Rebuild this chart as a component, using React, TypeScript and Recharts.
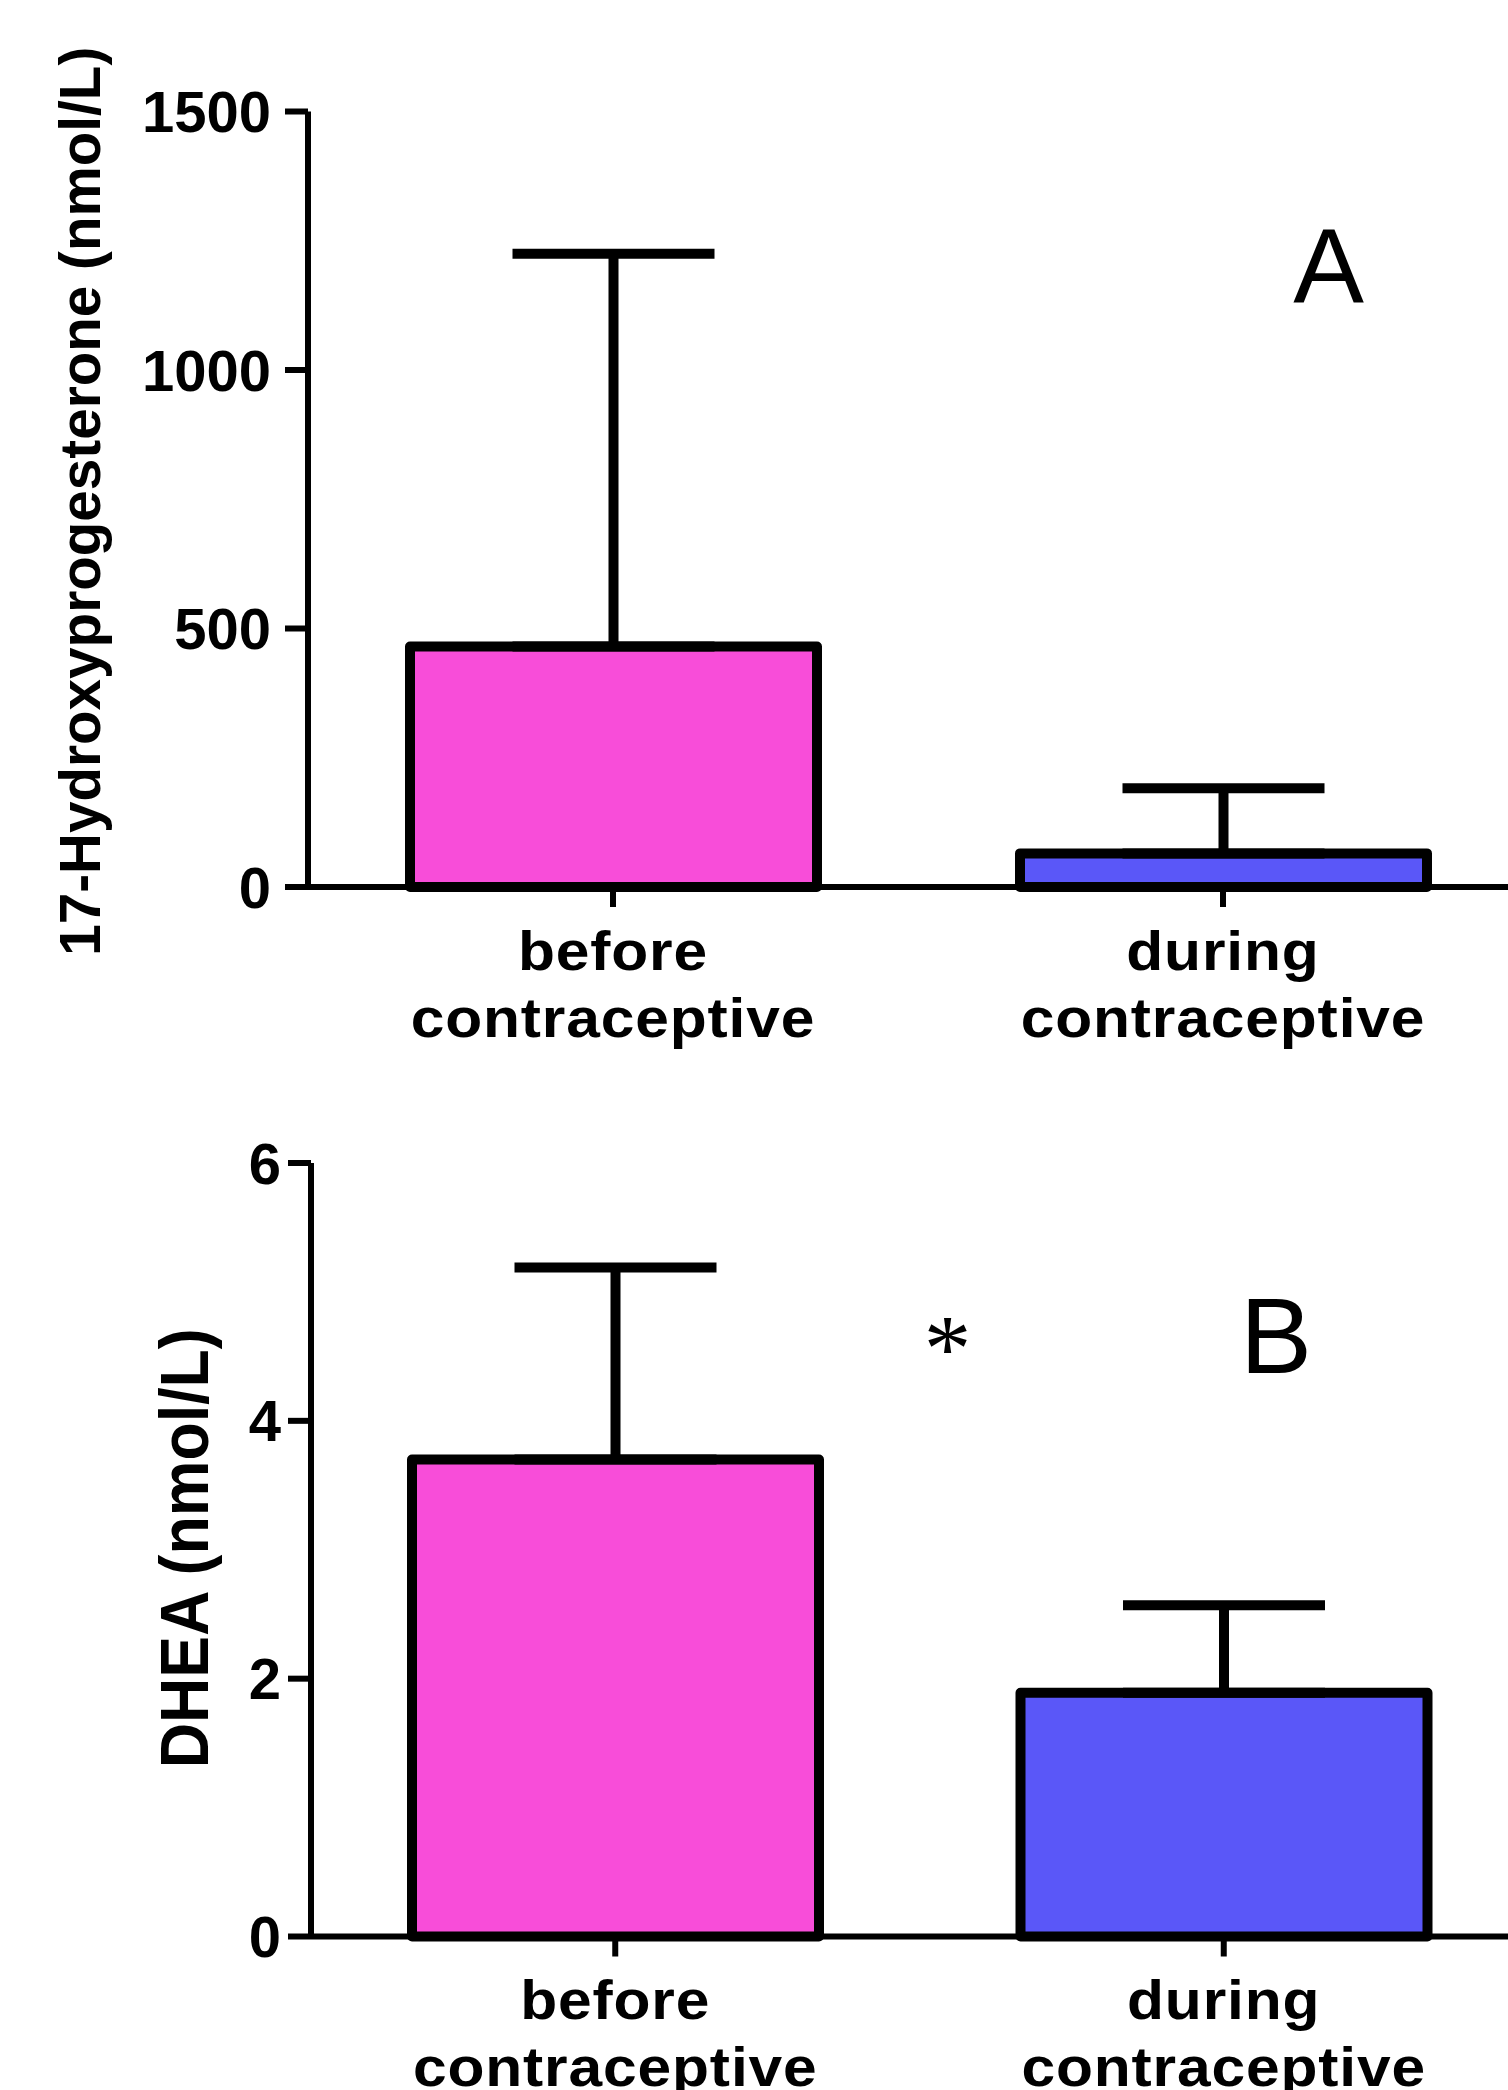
import React from "react";
import { BarChart, Bar, Cell, XAxis, YAxis, ErrorBar, Label } from "recharts";

// values (mean + upper SD whisker)
const CATEGORIES = ["before contraceptive", "during contraceptive"];

const HP17_MEAN = [465, 65];
const HP17_SD = [760, 126];
const HP17_TICKS = [0, 500, 1000, 1500];

const DHEA_MEAN = [3.7, 1.89];
const DHEA_SD = [1.49, 0.68];
const DHEA_TICKS = [0, 2, 4, 6];

const BAR_COLORS = ["#F84DD9", "#5A57F8"];
const FONT = "'Liberation Sans', Arial, Helvetica, sans-serif";
const INK = "#000";

const hp17Data = CATEGORIES.map((name, i) => ({
  name,
  mean: HP17_MEAN[i],
  err: [0, HP17_SD[i]],
}));

const dheaData = CATEGORIES.map((name, i) => ({
  name,
  mean: DHEA_MEAN[i],
  err: [0, DHEA_SD[i]],
}));

// two-line category label; the original print is a little wide, so stretch it
function CategoryTick({ x, y, payload }: any) {
  const lines = String(payload.value).split(" ");
  return (
    <text
      textAnchor="middle"
      fontFamily={FONT}
      fontWeight={700}
      fontSize={55}
      letterSpacing={0.8}
      fill={INK}
      transform={`translate(${x},0) scale(1.1,1) translate(${-x},0)`}
    >
      {lines.map((line, i) => (
        <tspan key={line} x={x} y={y + 63 + i * 67}>
          {line}
        </tspan>
      ))}
    </text>
  );
}

// rotated y-axis title; baseline sits at `baseX` inside the axis box
function axisTitle(text: string, baseX: number, size: number, length: number, dy: number) {
  return (props: any) => {
    const vb = props.viewBox;
    const cx = vb.x + baseX;
    const cy = vb.y + vb.height / 2 + dy;
    return (
      <text
        x={cx}
        y={cy}
        transform={`rotate(-90, ${cx}, ${cy})`}
        textAnchor="middle"
        fontFamily={FONT}
        fontWeight={700}
        fontSize={size}
        textLength={length}
        lengthAdjust="spacingAndGlyphs"
        fill={INK}
      >
        {text}
      </text>
    );
  };
}

interface PanelProps {
  data: { name: string; mean: number; err: number[] }[];
  ticks: number[];
  top: number;
  marginTop: number;
  marginBottom: number;
  axisWidth: number;
  tickMargin: number;
  title: (props: any) => React.ReactElement;
}

function Panel({ data, ticks, top, marginTop, marginBottom, axisWidth, tickMargin, title }: PanelProps) {
  return (
    <div style={{ position: "absolute", left: 0, top }}>
      <BarChart
        width={1548}
        height={1060}
        data={data}
        margin={{ top: marginTop, right: 20, left: 0, bottom: marginBottom }}
      >
        <XAxis
          dataKey="name"
          height={150}
          interval={0}
          tickSize={20}
          tickMargin={0}
          axisLine={{ stroke: INK, strokeWidth: 6 }}
          tickLine={{ stroke: INK, strokeWidth: 6 }}
          tick={<CategoryTick />}
        />
        <YAxis
          width={axisWidth}
          domain={[ticks[0], ticks[ticks.length - 1]]}
          ticks={ticks}
          interval={0}
          tickSize={23}
          tickMargin={tickMargin}
          axisLine={{ stroke: INK, strokeWidth: 6 }}
          tickLine={{ stroke: INK, strokeWidth: 6 }}
          tick={{ fill: INK, fontFamily: FONT, fontWeight: 700, fontSize: 58 }}
        >
          <Label content={title} />
        </YAxis>
        <Bar
          dataKey="mean"
          barSize={407}
          stroke={INK}
          strokeWidth={10}
          strokeLinejoin="round"
          isAnimationActive={false}
        >
          {data.map((d, i) => (
            <Cell key={d.name} fill={BAR_COLORS[i]} />
          ))}
          <ErrorBar
            dataKey="err"
            direction="y"
            width={101}
            stroke={INK}
            strokeWidth={10}
            isAnimationActive={false}
          />
        </Bar>
      </BarChart>
    </div>
  );
}

export default function App() {
  return (
    <div
      style={{
        position: "absolute",
        left: 0,
        top: 0,
        width: 1508,
        height: 2090,
        overflow: "hidden",
        background: "#fff",
      }}
    >
      <Panel
        data={hp17Data}
        ticks={HP17_TICKS}
        top={0}
        marginTop={111.5}
        marginBottom={23}
        axisWidth={308}
        tickMargin={14}
        title={axisTitle("17-Hydroxyprogesterone (nmol/L)", 99.5, 58, 909, 2)}
      />
      <Panel
        data={dheaData}
        ticks={DHEA_TICKS}
        top={1060}
        marginTop={103}
        marginBottom={33.5}
        axisWidth={311}
        tickMargin={7}
        title={axisTitle("DHEA (nmol/L)", 208, 68, 440, -1.5)}
      />
      <svg
        width={1508}
        height={2090}
        style={{ position: "absolute", left: 0, top: 0, pointerEvents: "none" }}
      >
        <text x={1328.5} y={302} textAnchor="middle" fontFamily={FONT} fontSize={106} fill={INK}>
          A
        </text>
        <text x={1276} y={1373} textAnchor="middle" fontFamily={FONT} fontSize={108} fill={INK}>
          B
        </text>
        <text
          x={947.5}
          y={1381}
          textAnchor="middle"
          fontFamily="'Liberation Serif', 'Times New Roman', serif"
          fontSize={95}
          fill={INK}
        >
          *
        </text>
      </svg>
    </div>
  );
}
